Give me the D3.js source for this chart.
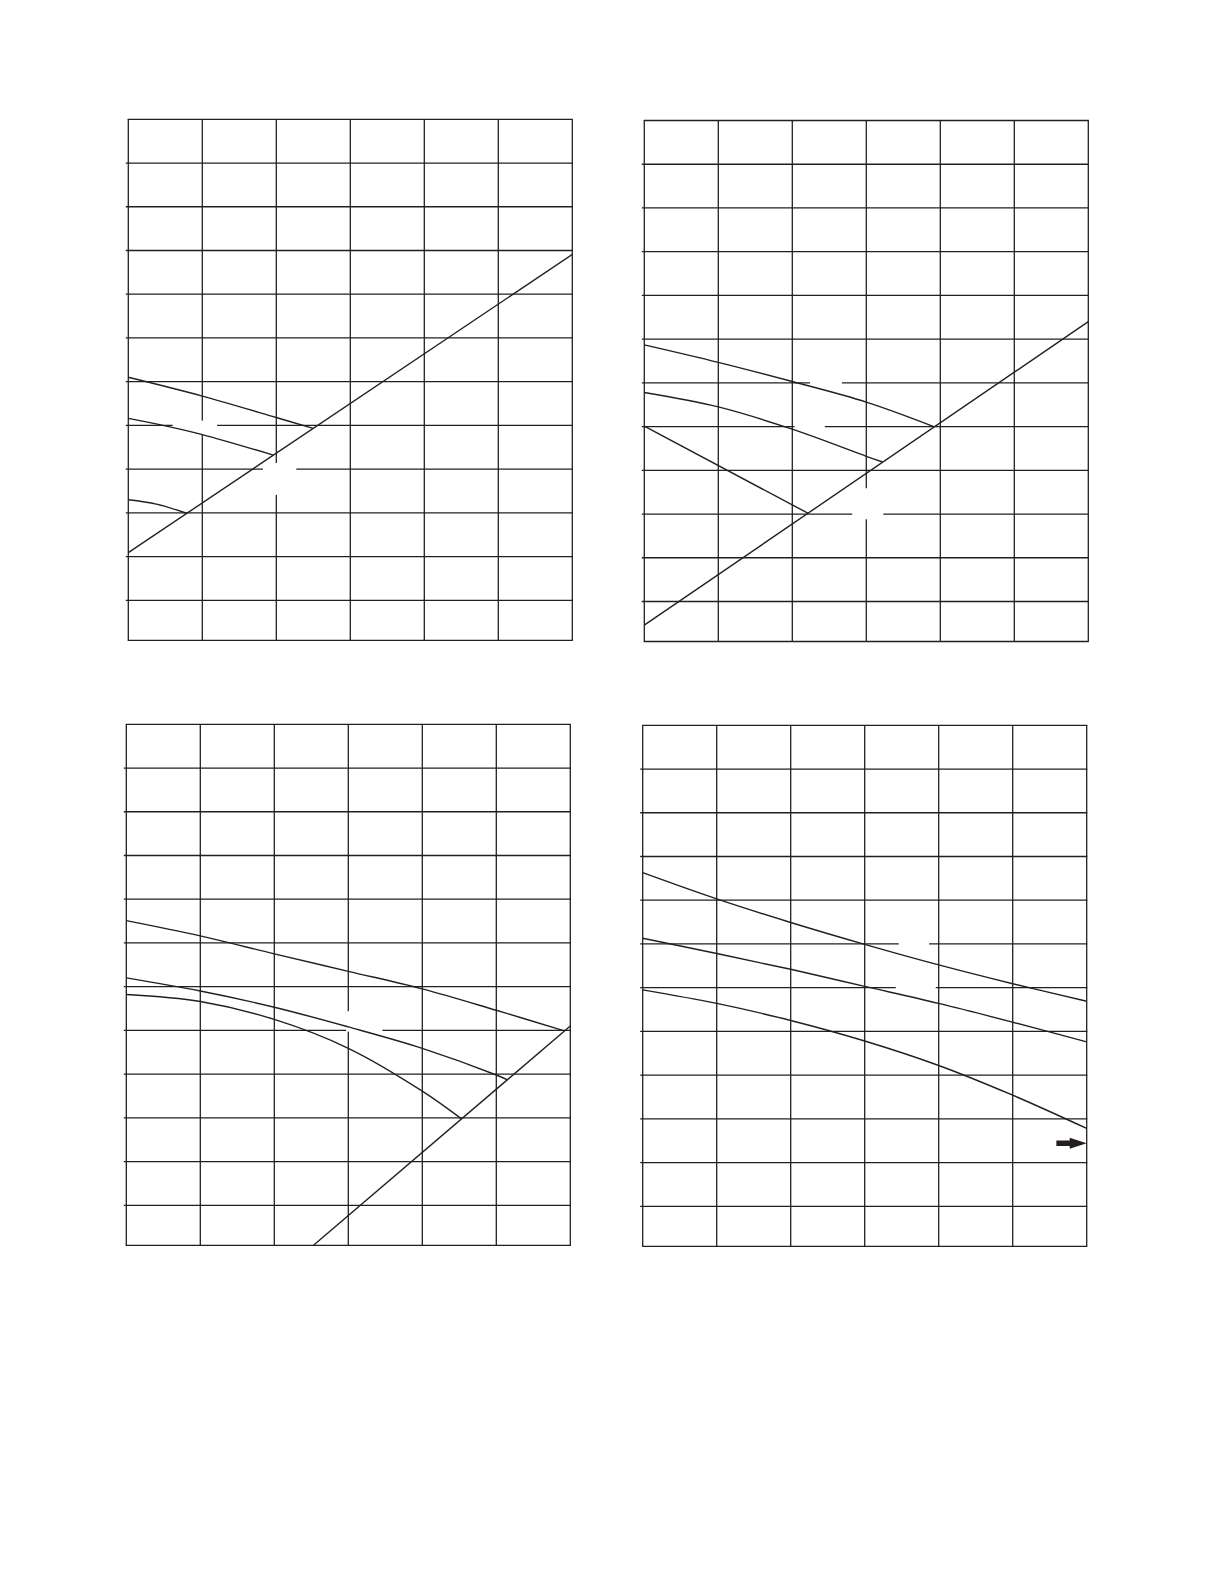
<!DOCTYPE html>
<html>
<head>
<meta charset="utf-8">
<script src="https://cdn.jsdelivr.net/npm/d3@7"></script>
<style>
  html, body { margin: 0; padding: 0; background: #ffffff; }
  svg { display: block; }
</style>
</head>
<body>
<svg id="chart" width="1224" height="1584"></svg>
<script>
// ---------- DATA (grid units: x 0..6 columns, y rows counted from bottom) ----------
const xGridTicks = [0, 1, 2, 3, 4, 5, 6];
const yGridTicks = [1, 2, 3, 4, 5, 6, 7, 8, 9, 10, 11, 12];
const yBottom = 0.085;

// Panel 1 (top-left)
const p1Line   = [[0, 2.09], [6, 8.91]];
const p1CurveA = [[0, 6.10], [1, 5.67], [2, 5.18], [2.5, 4.93]];
const p1CurveB = [[0, 5.16], [0.5, 4.99], [1, 4.79], [1.96, 4.32]];
const p1CurveC = [[0, 3.30], [0.38, 3.20], [0.79, 2.99]];
const p1Gaps   = [[0.60, 1.20, 5.11, 4.79], [1.82, 2.27, 4.14, 3.41]];

// Panel 2 (top-right)
const p2Line   = [[0, 0.46], [6, 7.40]];
const p2CurveA = [[0, 6.87], [1, 6.47], [2, 6.03], [3, 5.56], [3.92, 4.995]];
const p2CurveB = [[0, 5.78], [1, 5.45], [2, 4.94], [3, 4.32], [3.22, 4.19]];
const p2CurveC = [[0, 5.01], [2.21, 3.02]];
const p2Gaps   = [[2.24, 2.67, 6.16, 5.86], [2.03, 2.44, 5.15, 4.85], [2.81, 3.23, 3.59, 2.88]];

// Panel 3 (bottom-left)
const p3Line   = [[2.53, 0.085], [6, 5.10]];
const p3CurveA = [[0, 7.51], [1, 7.16], [2, 6.75], [3, 6.35], [4, 5.95], [5, 5.46], [5.92, 4.99]];
const p3CurveB = [[0, 6.20], [1, 5.90], [2, 5.53], [3, 5.08], [4, 4.59], [5, 3.98], [5.15, 3.87]];
const p3CurveC = [[0, 5.82], [1, 5.66], [2, 5.25], [3, 4.59], [4, 3.61], [4.53, 2.975]];
const p3Gaps   = [[2.97, 3.46, 5.44, 4.97]];

// Panel 4 (bottom-right)
const p4CurveA = [[0, 8.63], [1, 8.03], [2, 7.49], [3, 6.99], [4, 6.52], [5, 6.09], [6, 5.69]];
const p4CurveB = [[0, 7.13], [1, 6.78], [2, 6.42], [3, 6.03], [4, 5.64], [5, 5.21], [6, 4.76]];
const p4CurveC = [[0, 5.95], [1, 5.64], [2, 5.25], [3, 4.78], [4, 4.22], [5, 3.54], [6, 2.78]];
const p4Gaps   = [[3.46, 3.87, 7.14, 6.86], [3.42, 3.96, 6.15, 5.86]];
const p4Arrow  = [[5.59, 2.44], [6.0, 2.44]];

// ---------- LAYOUT ----------
const panelW = 444, panelH = 521;
const ink = "#231f20";
const panels = [
  { left: 128.3, top: 119.3, lines: [p1Line], curves: [p1CurveA, p1CurveB, p1CurveC], gaps: p1Gaps },
  { left: 644.3, top: 120.5, lines: [p2Line, p2CurveC], curves: [p2CurveA, p2CurveB], gaps: p2Gaps },
  { left: 126.3, top: 724.3, lines: [p3Line], curves: [p3CurveA, p3CurveB, p3CurveC], gaps: p3Gaps },
  { left: 642.7, top: 725.3, lines: [], curves: [p4CurveA, p4CurveB, p4CurveC], gaps: p4Gaps, arrow: p4Arrow }
];

const x = d3.scaleLinear().domain([0, 6]).range([0, panelW]);
const y = d3.scaleLinear().domain([yBottom, 12]).range([panelH, 0]);

const svg = d3.select("#chart");
svg.append("rect").attr("width", 1224).attr("height", 1584).attr("fill", "#fff");

const curveGen = d3.line().x(d => x(d[0])).y(d => y(d[1])).curve(d3.curveCatmullRom.alpha(0.5));
const lineGen  = d3.line().x(d => x(d[0])).y(d => y(d[1]));

panels.forEach(p => {
  const g = svg.append("g").attr("transform", `translate(${p.left},${p.top})`);

  // vertical grid lines (incl. borders)
  g.append("g").selectAll("line").data(xGridTicks).join("line")
    .attr("x1", d => x(d)).attr("x2", d => x(d))
    .attr("y1", y(12)).attr("y2", y(yBottom))
    .attr("stroke", ink).attr("stroke-width", 1.3);

  // horizontal grid lines (with short tick stub on the left)
  g.append("g").selectAll("line").data(yGridTicks).join("line")
    .attr("x1", d => d === 12 ? x(0) - 0.6 : x(0) - 2.5).attr("x2", x(6) + 0.6)
    .attr("y1", d => y(d)).attr("y2", d => y(d))
    .attr("stroke", ink).attr("stroke-width", 1.3);

  // bottom border
  g.append("line")
    .attr("x1", x(0) - 0.6).attr("x2", x(6) + 0.6)
    .attr("y1", y(yBottom)).attr("y2", y(yBottom))
    .attr("stroke", ink).attr("stroke-width", 1.3);

  // white label masks (gaps in the grid)
  g.append("g").selectAll("rect").data(p.gaps).join("rect")
    .attr("x", d => x(d[0])).attr("width", d => x(d[1]) - x(d[0]))
    .attr("y", d => y(d[2])).attr("height", d => y(d[3]) - y(d[2]))
    .attr("fill", "#fff");

  // straight lines
  g.append("g").selectAll("path").data(p.lines).join("path")
    .attr("d", lineGen).attr("fill", "none")
    .attr("stroke", ink).attr("stroke-width", 1.4);

  // curves
  g.append("g").selectAll("path").data(p.curves).join("path")
    .attr("d", curveGen).attr("fill", "none")
    .attr("stroke", ink).attr("stroke-width", 1.4);

  // arrow marker
  if (p.arrow) {
    const [a0, a1] = p.arrow;
    const xs = x(a0[0]), xe = x(a1[0]), ya = y(a0[1]);
    const headLen = 17, headHalf = 5.5, shaftHalf = 2.7;
    const xh = xe - headLen;
    const pts = [
      [xs, ya - shaftHalf], [xh, ya - shaftHalf], [xh, ya - headHalf],
      [xe, ya], [xh, ya + headHalf], [xh, ya + shaftHalf], [xs, ya + shaftHalf]
    ];
    g.append("path").attr("d", "M" + pts.map(q => q.join(",")).join("L") + "Z")
      .attr("fill", ink);
  }
});
</script>
</body>
</html>
